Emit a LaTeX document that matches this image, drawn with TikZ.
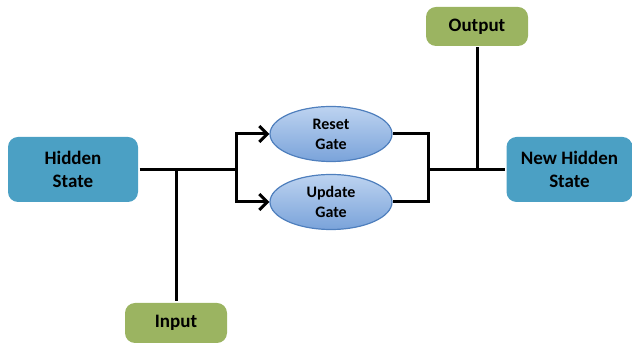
\documentclass[tikz,border=0pt]{standalone}
\usepackage{fontspec}
\setmainfont{Carlito}
\usepackage{tikz}
\usetikzlibrary{arrows.meta,shapes.geometric}
\definecolor{stateblue}{HTML}{4BA0C4}
\definecolor{iogreen}{HTML}{9BB461}
\definecolor{gatetop}{HTML}{BDD3F0}
\definecolor{gatebot}{HTML}{7AA3DA}
\definecolor{gateline}{HTML}{4F7FBD}

\begin{document}
\begin{tikzpicture}[x=0.5pt, y=-0.5pt, line width=1.5pt,
	box/.style={rounded corners=5pt, align=center, font=\fontsize{9.5}{11.5}\selectfont\bfseries, inner sep=0pt},
	gate/.style={ellipse, draw=gateline, line width=0.6pt, top color=gatetop, bottom color=gatebot, minimum width=61pt, minimum height=27.5pt, inner sep=0pt, align=center, font=\fontsize{8}{10}\selectfont\bfseries}]
	\useasboundingbox (0,0) rectangle (632,346);

	\node[box, fill=stateblue, minimum width=65pt, minimum height=32.5pt] (H) at (73,169.5) {Hidden\\State};
	\node[box, fill=stateblue, minimum width=63pt, minimum height=32.5pt] (N) at (569.5,169.5) {New Hidden\\State};
	\node[box, fill=iogreen, minimum width=51pt, minimum height=20pt] (I) at (176,323) {Input};
	\node[box, fill=iogreen, minimum width=51pt, minimum height=19.5pt] (O) at (477,26.5) {Output};
	\node[gate] (R) at (331,134) {Reset\\Gate};
	\node[gate] (U) at (331,202) {Update\\Gate};

	\coordinate (a) at (176,170);
	\coordinate (b) at (236,170);
	\coordinate (c) at (428,170);
	\coordinate (d) at (477,170);

	\draw (H.east |- a) -- (b);
	\draw (a) -- (I.north);
	\draw[-{Straight Barb[length=4pt, width=8pt]}] (b) |- (R.west);
	\draw[-{Straight Barb[length=4pt, width=8pt]}] (b) |- (U.west);
	\draw (R.east) -| (c);
	\draw (U.east) -| (c);
	\draw (c) -- (N.west |- c);
	\draw (O.south) -- (d);
\end{tikzpicture}
\end{document}
